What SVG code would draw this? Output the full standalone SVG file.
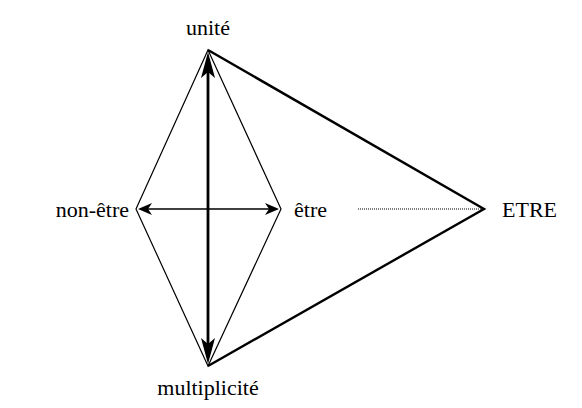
<svg xmlns="http://www.w3.org/2000/svg" width="582" height="408" viewBox="0 0 582 408">
<style>
.thin{stroke:#000;stroke-width:1.2;fill:none}
.thick{stroke:#000;stroke-width:2.4;fill:none}
</style>
<rect width="582" height="408" fill="#fff"/>
<g id="connectors">
<polygon class="thin" points="208,50 281,209 208,366 136,209"/>
<polyline class="thick" points="208,50 484,209 208,366"/>
<line x1="358" y1="209" x2="484" y2="209" stroke="#000" stroke-width="1" stroke-dasharray="1,1"/>
<line x1="208" y1="70" x2="208" y2="346" stroke="#000" stroke-width="2.8"/>
<path d="M208,52 L215,78 L208,72 L201,78 Z" fill="#000"/>
<path d="M208,364 L215,338 L208,344 L201,338 Z" fill="#000"/>
<line x1="145" y1="209" x2="271" y2="209" stroke="#000" stroke-width="1.5"/>
<path d="M138,209 L152,203 L148,209 L152,215 Z" fill="#000"/>
<path d="M279,209 L265,203 L269,209 L265,215 Z" fill="#000"/>
</g>
<g id="unite"><text x="208" y="35" text-anchor="middle" font-family="'Liberation Serif', serif" font-size="22" style="font-family:'Liberation Serif',serif;font-size:22px">unité</text></g>
<g id="non-etre"><text x="129" y="217" text-anchor="end" font-family="'Liberation Serif', serif" font-size="22" style="font-family:'Liberation Serif',serif;font-size:22px">non-être</text></g>
<g id="etre"><text x="294" y="217" font-family="'Liberation Serif', serif" font-size="22" style="font-family:'Liberation Serif',serif;font-size:22px">être</text></g>
<g id="ETRE"><text x="502" y="217" font-family="'Liberation Serif', serif" font-size="22" style="font-family:'Liberation Serif',serif;font-size:22px">ETRE</text></g>
<g id="multiplicite"><text x="208" y="395" text-anchor="middle" font-family="'Liberation Serif', serif" font-size="22" style="font-family:'Liberation Serif',serif;font-size:22px">multiplicité</text></g>
</svg>
